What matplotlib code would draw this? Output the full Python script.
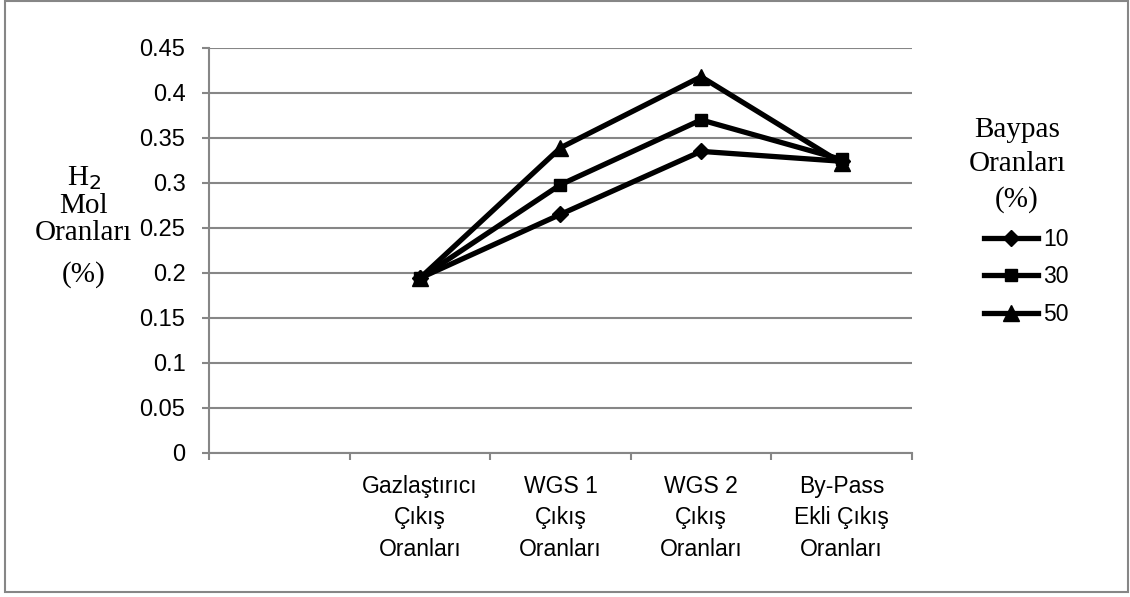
import matplotlib.pyplot as plt
from matplotlib.patches import Rectangle
from matplotlib.ticker import FixedLocator
import numpy as np

categories = ["", "Gazlaştırıcı\nÇıkış\nOranları", "WGS 1\nÇıkış\nOranları",
              "WGS 2\nÇıkış\nOranları", "By-Pass\nEkli Çıkış\nOranları"]
bypass_labels = ["10", "30", "50"]
h2_10 = [None, 0.194, 0.265, 0.335, 0.324]
h2_30 = [None, 0.194, 0.298, 0.370, 0.326]
h2_50 = [None, 0.194, 0.339, 0.418, 0.322]
y_ticks = [0, 0.05, 0.1, 0.15, 0.2, 0.25, 0.3, 0.35, 0.4, 0.45]

sans = ['Liberation Sans', 'DejaVu Sans']
serif = ['Liberation Serif', 'DejaVu Serif']
grey = '#868686'

fig = plt.figure(figsize=(11.3, 5.97), dpi=100)
ax = fig.add_axes([0.185, 0.2417, 0.622, 0.678])

x = np.arange(len(categories))
series = [h2_10, h2_30, h2_50]
markers = ['D', 's', '^']
msizes = [8, 9, 11]
for vals, m, ms, lab in zip(series, markers, msizes, bypass_labels):
    xs = [xi for xi, v in zip(x, vals) if v is not None]
    ys = [v for v in vals if v is not None]
    ax.plot(xs, ys, color='black', lw=3.8, marker=m, markersize=ms,
            solid_joinstyle='miter', label=lab, zorder=3)

ax.set_xlim(-0.5, len(categories) - 0.5)
ax.set_ylim(0, 0.45)
ax.set_yticks(y_ticks)
ax.set_yticklabels([f"{v:g}" for v in y_ticks], fontfamily=sans, fontsize=17)
ax.yaxis.grid(True, color=grey, lw=1.5)
ax.set_axisbelow(True)

# category boundaries as ticks, labels in between
ax.xaxis.set_major_locator(FixedLocator(np.arange(len(categories) + 1) - 0.5))
ax.xaxis.set_major_formatter(plt.NullFormatter())
ax.xaxis.set_minor_locator(FixedLocator(x))
ax.set_xticklabels(categories, minor=True, fontfamily=sans, fontsize=16.5,
                   linespacing=1.47)
ax.tick_params(axis='x', which='minor', length=0, pad=16)
ax.tick_params(axis='x', which='major', length=5, color=grey, width=1.5)
ax.tick_params(axis='y', length=5, color=grey, width=1.5, pad=12)

for s in ['top', 'right']:
    ax.spines[s].set_visible(False)
for s in ['left', 'bottom']:
    ax.spines[s].set_color(grey)
    ax.spines[s].set_linewidth(1.5)

# y label
ylab_lines = [("H$_2$", 0.702), ("Mol", 0.655), ("Oranları", 0.61), ("(%)", 0.54)]
for txt, yy in ylab_lines:
    fig.text(0.074, yy, txt, ha='center', va='center', fontfamily=serif, fontsize=21)

# legend
fig.text(0.9, 0.7236, "Baypas\nOranları\n(%)", ha='center', va='center',
         fontfamily=serif, fontsize=21, linespacing=1.4)
ax.legend(loc='upper left', bbox_to_anchor=(0.863, 0.633), bbox_transform=fig.transFigure,
          frameon=False, prop={'family': sans, 'size': 16.5}, handlelength=2.36,
          handletextpad=0.2, labelspacing=0.62, borderaxespad=0)

fig.patches.append(Rectangle((0.0044, 0.008), 0.9938, 0.99, transform=fig.transFigure,
                             fill=False, edgecolor=grey, lw=1.5))

fig.savefig('out.png', dpi=100)
